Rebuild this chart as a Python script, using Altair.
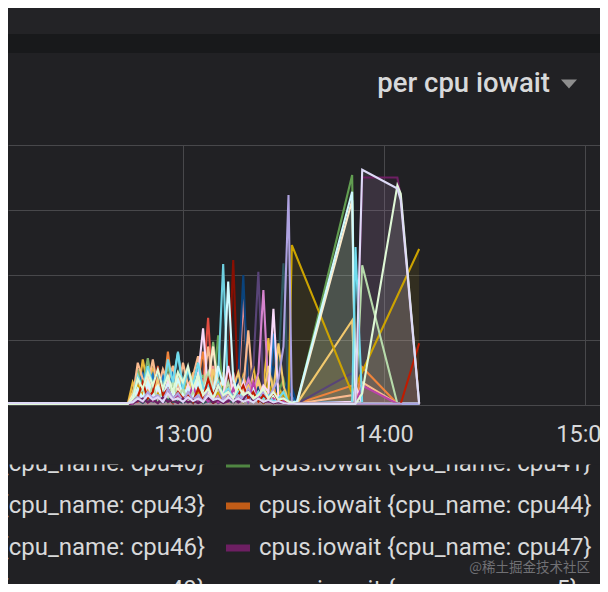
import altair as alt
import pandas as pd

# ---------------- data ----------------
# sample times, minutes after 12:00
TIMES = [0, 43.5,
         45, 46.5, 48, 49.5, 51, 52.5, 54, 55.5, 57, 58.5, 60, 61.5, 63, 64.5,
         66, 67.5, 69, 70.5, 72, 73.5, 75, 76.5, 78, 79.5, 81, 82.5, 84, 85.5, 87, 88.5, 90, 91.5,
         92.5, 94, 110.5, 111.5, 113.5, 124, 125, 130.5]
N = None

SERIES_COLORS = ["#705DA0", "#EAB839", "#E24D42", "#EF843C", "#7EB26D", "#629E51", "#6ED0E0",
                 "#1F78C1", "#890F02", "#F29191", "#0A437C", "#F9BA8F", "#584477", "#D683CE",
                 "#2F575E", "#F2C96D", "#CCA300", "#FCEACA", "#F9D9F9", "#CFFAFF", "#B7DBAB",
                 "#BA43A9", "#70DBED", "#BF1B00", "#AEA2E0", "#6D1F62", "#E0F9D7", "#DEDAF7"]

V01 = [0.03, 0.03, 0.05,0.10,0.04,0.12,0.06,0.15,0.05,0.10,0.04,0.12,0.05,0.08,0.03,0.10,0.05,0.20,0.06,0.15,0.05,0.10,0.04,0.12,0.05,0.30,0.08,0.15,0.05,0.10,0.04,0.08,0.03,0.05, N,0.02,0.03,0.02,0.03,0.02,0.02,0.02]
V02 = [0.01, 0.01, 0.35,0.15,0.70,0.30,0.55,0.20,0.45,0.15,0.60,0.25,0.40,0.20,0.50,0.10,0.35,0.10,0.50,0.15,0.30,0.05,0.20,0.10,0.45,0.20,0.60,0.10,0.30,1.03,0.15,0.30,0.08,0.05, N,0.02,0.05,0.02,0.03,0.02,0.02,0.02]
V03 = [0.01, 0.01, 0.10,0.05,0.18,0.04,0.15,0.06,0.20,0.05,0.12,0.04,0.18,0.06,0.15,0.05,0.30,1.34,0.10,0.05,0.20,0.08,0.15,0.05,0.25,0.05,0.10,0.20,0.05,0.15,0.08,0.05,0.10,0.05, N,0.02,0.03,0.02,0.02,0.02,0.02,0.02]
V04 = [0.01, 0.01, 0.15,0.40,0.25,0.55,0.20,0.35,0.15,0.82,0.20,0.45,0.15,0.30,0.10,0.40,0.82,0.20,0.35,0.10,0.50,0.15,0.30,0.10,0.40,0.15,0.35,0.10,0.25,0.08,0.30,0.10,0.20,0.05, N,0.02,0.30,0.02,0.58,0.02,0.02,0.02]
V05 = [0.01, 0.01, 0.08,0.55,0.30,0.72,0.25,0.45,0.20,0.60,0.30,0.50,0.20,0.55,0.25,0.40,0.45,0.30,0.97,0.40,0.15,0.30,0.10,0.25,0.05,0.20,0.10,0.30,0.08,0.15,0.05,0.10,0.05,0.03, N,0.02,0.03,0.02,0.02,0.02,0.02,0.02]
V06 = [0.01, 0.01, 0.05,0.25,0.40,0.15,0.35,0.10,0.25,0.05,0.30,0.12,0.20,0.05,0.15,0.08,0.25,0.40,0.20,1.07,0.15,0.30,0.10,0.20,0.05,0.15,0.05,0.10,0.05,0.12,0.05,0.20,0.40,0.05, N,0.02,3.54,0.02,0.02,0.02,0.02,0.02]
V07 = [0.01, 0.01, 0.05,0.20,0.35,0.15,0.30,0.10,0.45,0.20,0.35,0.82,0.25,0.15,0.30,0.10,0.20,0.05,0.30,0.45,2.17,0.10,0.20,0.05,0.15,0.05,0.10,0.05,0.15,0.05,0.10,0.05,0.08,0.02, N,0.02,0.02,0.02,0.02,0.02,0.02,0.02]
V08 = [0.01, 0.01, 0.05,0.32,0.48,0.26,0.47,0.15,0.45,0.20,0.50,0.22,0.35,0.58,0.10,0.54,0.05,0.30,0.08,0.20,0.05,0.25,0.10,0.15,0.40,0.05,0.20,0.10,0.30,0.05,1.10,0.10,0.05,0.20, N,0.03,0.05,0.02,0.03,0.02,0.02,0.02]
V09 = [0.01, 0.01, 0.02,0.10,0.05,0.20,0.08,0.15,0.05,0.12,0.03,0.20,0.05,0.10,0.03,0.15,0.05,0.10,0.03,0.08,0.15,0.30,2.23,0.10,0.05,0.20,0.05,0.10,0.03,0.08,0.03,0.05,0.03,0.02, N,0.02,0.02,0.02,0.02,0.02,0.02,0.02]
V10 = [0.01, 0.01, 0.05,0.30,0.10,0.45,0.15,0.25,0.08,0.20,0.05,0.30,0.10,0.15,0.05,0.25,0.10,0.35,0.60,0.15,0.40,0.10,0.50,0.20,1.66,0.30,0.10,0.20,0.05,0.15,0.05,0.10,0.05,0.03, N,0.02,0.02,0.02,0.02,0.02,0.02,0.02]
V11 = [0.01, 0.01, 0.03,0.15,0.05,0.20,0.08,0.12,0.05,0.18,0.05,0.10,0.05,0.15,0.05,0.10,0.03,0.12,0.05,0.10,0.05,0.20,0.10,0.40,2.00,0.15,0.05,0.30,0.05,0.10,0.60,0.05,0.10,0.43, N,0.02,0.02,0.02,0.02,0.02,0.02,0.02]
V12 = [0.01, 0.01, 0.12,0.65,0.40,0.30,0.70,0.25,0.55,0.35,0.60,0.20,0.65,0.30,0.45,0.75,0.20,0.90,0.30,0.20,0.40,0.15,0.30,0.10,0.25,1.15,0.20,0.35,0.10,0.20,0.10,0.15,0.05,0.03, N,0.02,0.15,0.02,0.35,0.02,0.02,0.02]
V13 = [0.03, 0.03, 0.03,0.08,0.15,0.05,0.10,0.03,0.12,0.05,0.08,0.03,0.10,0.05,0.08,0.03,0.10,0.05,0.12,0.03,0.08,0.05,0.15,0.05,0.10,0.30,0.60,2.05,0.20,0.05,0.10,0.03,0.05,0.02, N,0.02,0.49,0.02,0.02,0.02,0.02,0.02]
V14 = [0.01, 0.01, 0.05,0.15,0.08,0.25,0.10,0.20,0.05,0.15,0.08,0.30,0.10,0.20,0.05,0.15,0.10,0.25,0.08,0.15,0.05,0.20,0.10,0.30,0.15,0.40,0.20,0.50,1.77,0.20,0.10,0.05,0.10,0.03, N,0.02,0.02,0.02,0.02,0.02,0.02,0.02]
V15 = [0.01, 0.01, 0.02,0.08,0.03,0.10,0.05,0.08,0.03,0.10,0.05,0.06,0.03,0.08,0.04,0.10,0.03,0.06,0.05,0.10,0.04,0.08,0.03,0.12,0.05,0.08,0.04,0.15,0.05,0.10,0.30,0.60,2.18,0.10, N,0.02,0.02,0.02,0.02,0.02,0.02,0.02]
V16 = [0.01, 0.01, 0.20,0.45,0.10,0.30,0.15,0.40,0.20,0.25,0.10,0.35,0.15,0.20,0.40,0.10,0.30,0.15,0.55,0.20,0.35,0.10,0.25,0.50,0.15,0.30,0.10,0.40,0.15,0.60,0.20,0.95,0.30,0.05, N,0.02,1.30,0.02,0.02,0.02,0.02,0.02]
V17 = [0.01, 0.01, 0.10,0.30,0.15,0.25,0.08,0.20,0.05,0.30,0.10,0.15,0.05,0.25,0.10,0.20,0.05,0.15,0.10,0.20,0.05,0.15,0.10,0.25,0.05,0.15,0.10,0.20,0.05,0.35,0.10,0.20,0.15,0.05, 2.46,N,0.18,N,N,N,N,2.40]
V18 = [0.01, 0.01, 0.15,0.25,0.10,0.40,0.20,0.30,0.12,0.35,0.20,0.25,0.10,0.30,0.15,0.50,0.20,0.35,0.90,0.25,0.40,0.15,0.30,0.10,0.20,0.10,0.15,0.05,0.25,0.10,0.20,0.05,0.10,0.03, N,0.02,3.15,0.02,0.02,0.02,0.02,0.02]
V19 = [0.01, 0.01, 0.05,0.20,0.10,0.30,0.08,0.25,0.10,0.35,0.15,0.20,0.05,0.30,0.10,0.45,1.18,0.20,0.10,0.30,0.15,0.60,0.20,0.10,0.35,0.10,0.25,0.10,0.30,0.20,1.48,0.10,0.05,0.03, N,0.02,0.05,0.30,0.02,0.02,0.02,0.02]
V20 = [0.01, 0.01, 0.08,0.25,0.10,0.35,0.15,0.28,0.10,0.30,0.12,0.40,0.15,0.25,0.10,0.35,0.15,0.50,0.20,0.60,0.30,1.90,0.40,0.15,0.30,0.10,0.25,0.10,0.20,0.10,0.15,0.05,0.10,0.05, N,0.05,3.28,0.05,0.03,0.02,0.02,0.02]
V21 = [0.01, 0.01, 0.05,0.15,0.25,0.10,0.30,0.08,0.20,0.12,0.35,0.10,0.25,0.05,0.20,0.10,0.30,0.50,0.15,0.25,0.10,0.35,0.05,0.20,0.10,0.15,0.05,0.20,0.08,0.15,0.05,0.10,0.05,0.03, N,0.02,0.02,0.02,2.15,0.02,0.02,0.02]
V22 = [0.01, 0.01, 0.02,0.10,0.05,0.18,0.06,0.12,0.04,0.20,0.08,0.15,0.05,0.10,0.30,0.08,0.15,0.05,0.12,0.04,0.10,0.05,0.25,0.08,0.15,0.05,0.35,0.10,0.20,0.05,0.10,0.04,0.06,0.02, N,0.02,0.02,0.02,0.30,0.02,0.02,0.02]
V23 = [0.01, 0.01, 0.10,0.45,0.25,0.60,0.30,0.50,0.20,0.70,0.35,0.80,0.25,0.55,0.30,0.65,0.25,0.30,0.10,0.35,0.15,0.25,0.10,0.20,0.08,0.15,0.05,0.20,0.10,0.15,0.05,0.10,0.20,0.05, N,0.02,0.02,2.43,0.02,0.02,0.02,0.02]
V24 = [0.01, 0.01, 0.05,0.12,0.35,0.10,0.20,0.60,0.15,0.25,0.08,0.20,0.10,0.15,0.05,0.25,0.10,0.40,0.15,0.30,0.08,0.20,0.05,0.15,0.30,0.10,0.20,0.05,0.15,0.08,0.20,0.05,0.10,0.03, N,0.02,0.02,0.02,0.02,0.02,0.02,0.95]
V25 = [0.03, 0.03, 0.05,0.12,0.08,0.20,0.10,0.15,0.05,0.25,0.10,0.18,0.06,0.20,0.08,0.15,0.05,0.25,0.10,0.30,0.08,0.20,0.05,0.15,0.10,0.25,0.05,0.15,0.20,0.10,0.25,0.40,0.90,3.23, 0.02,0.02,0.02,0.02,0.02,0.02,0.02,0.02]
V26 = [0.01, 0.01, 0.03,0.06,0.10,0.04,0.08,0.03,0.12,0.05,0.08,0.03,0.10,0.04,0.08,0.03,0.06,0.12,0.04,0.08,0.03,0.06,0.10,0.04,0.08,0.20,0.05,0.10,0.04,0.06,0.03,0.05,0.03,0.02, N,0.02,0.02,0.02,3.50,3.50,3.20,0.02]
V27 = [0.01, 0.01, 0.10,0.40,0.25,0.50,0.30,0.55,0.25,0.45,0.20,0.50,0.35,0.60,0.25,0.45,0.15,0.25,0.10,0.30,0.15,0.20,0.10,0.30,0.15,0.20,0.10,0.15,0.25,0.10,0.20,0.08,0.10,0.05, N,0.02,0.02,0.02,0.18,3.38,3.25,0.02]
V28 = [0.03, 0.03, 0.04,0.10,0.06,0.15,0.08,0.12,0.05,0.18,0.08,0.10,0.05,0.12,0.06,0.10,0.05,0.15,0.08,0.10,0.05,0.12,0.06,0.10,0.05,0.08,0.04,0.10,0.05,0.08,0.04,0.06,0.03,0.02, N,0.02,0.02,0.02,3.62,3.33,3.15,0.02]

SERIES_VALUES = [V01, V02, V03, V04, V05, V06, V07, V08, V09, V10, V11, V12, V13, V14,
                 V15, V16, V17, V18, V19, V20, V21, V22, V23, V24, V25, V26, V27, V28]
SERIES_NAMES = ["s%02d" % (k + 1) for k in range(len(SERIES_VALUES))]

HOUR_TICKS = [13, 14, 15]
TITLE = "per cpu iowait"
LEGEND_LEFT = ["{cpu_name: cpu40}", "{cpu_name: cpu43}", "{cpu_name: cpu46}", "{cpu_name: cpu49}"]
LEGEND_RIGHT = ["cpus.iowait {cpu_name: cpu41}", "cpus.iowait {cpu_name: cpu44}",
                "cpus.iowait {cpu_name: cpu47}", "cpus.iowait {cpu_name: cpu5}"]
LEGEND_SWATCH = ["#508642", "#C15C17", "#6D1F62", "#F4D598"]
LEGEND_NEXT_SWATCH = "#70DBED"
WATERMARK = "@稀土掘金技术社区"

# ---------------- build table ----------------
base = pd.Timestamp("2021-01-01 12:00:00")
rows = []
for name, vals in zip(SERIES_NAMES, SERIES_VALUES):
    for t, v in zip(TIMES, vals):
        if v is None:
            continue
        rows.append({"series": name,
                     "time": (base + pd.Timedelta(minutes=t)).strftime("%Y-%m-%dT%H:%M:%S"),
                     "value": v})
df = pd.DataFrame(rows)

# ---------------- layout ----------------
W, H = 592, 260
PAD_TOP, PAD_BOTTOM = 137, 179
BG = "#212124"
TXT = "#d8d9da"
GRID = "#48484b"
FONT = "Roboto"

def dt(h, m=0, s=0):
    return alt.DateTime(year=2021, month=1, date=1, hours=h, minutes=m, seconds=s)

x_enc = alt.X("time:T",
              scale=alt.Scale(domain=[dt(12, 7, 46), dt(15, 4, 29)]),
              axis=alt.Axis(values=[dt(h) for h in HOUR_TICKS], format="%H:%M",
                            labelFont=FONT, labelFontSize=23.5, labelColor=TXT,
                            labelPadding=17, ticks=False, domain=False, grid=True,
                            gridColor=GRID, gridWidth=1, title=None, labelFlush=False,
                            labelOverlap=False))
y_enc = alt.Y("value:Q", stack=None,
              scale=alt.Scale(domain=[0, 4], nice=False),
              axis=alt.Axis(values=[0, 1, 2, 3, 4], labels=False, ticks=False, domain=False,
                            grid=True, gridColor=GRID, gridWidth=1, title=None))
color_enc = alt.Color("series:N", scale=alt.Scale(domain=SERIES_NAMES, range=SERIES_COLORS),
                      legend=None)

base_chart = alt.Chart(df)
areas = base_chart.mark_area(opacity=0.1, clip=True).encode(x=x_enc, y=y_enc, color=color_enc)
lines = base_chart.mark_line(strokeWidth=2.1, clip=True).encode(x=x_enc, y=y_enc, color=color_enc)

one = pd.DataFrame({"k": [0]})

def rect(x1, x2, y1, y2, color):
    return alt.Chart(one).mark_rect(color=color).encode(
        x=alt.value(x1), x2=alt.value(x2), y=alt.value(y1), y2=alt.value(y2))

def text(s, x, y, size, color=TXT, align="left", weight="normal", font=FONT):
    return alt.Chart(pd.DataFrame({"label": [s]})).mark_text(
        align=align, baseline="alphabetic", font=font, fontSize=size,
        fontWeight=weight, color=color).encode(
        x=alt.value(x), y=alt.value(y), text="label:N")

layers = [
    rect(0, W, -PAD_TOP, -111, "#232326"),
    rect(0, W, -111, -92, "#18191b"),
    areas, lines,
    text(TITLE, 542, -53, 27.5, align="right", weight=500),
    alt.Chart(one).mark_point(shape="M-1,-0.56L1,-0.56L0,0.56Z", size=256, filled=True,
                              color="#8e8e8e", opacity=1, strokeWidth=0).encode(
        x=alt.value(561), y=alt.value(-61)),
]

for k, (lt, rt, sc) in enumerate(zip(LEGEND_LEFT, LEGEND_RIGHT, LEGEND_SWATCH)):
    baseline = 326 + 42 * k
    cy = baseline - 7
    layers.append(text(lt, 197, baseline, 24, align="right"))
    layers.append(rect(218, 242, cy - 3.5, cy + 3.5, sc))
    layers.append(text(rt, 251, baseline, 24))
    if k == 3:
        layers.append(rect(590, 614, cy - 3.5, cy + 3.5, LEGEND_NEXT_SWATCH))

# clip the partly scrolled first legend row
layers.append(rect(0, W, 300, 319.5, BG))
layers.append(text(WATERMARK, 582, 427, 13.5, color="#707074", align="right",
                   font="Noto Sans CJK SC"))

chart = alt.layer(*layers).properties(
    width=W, height=H,
    padding={"left": 0, "right": 0, "top": PAD_TOP, "bottom": PAD_BOTTOM},
    autosize=alt.AutoSizeParams(type="none"),
    background=BG,
).configure_view(stroke=None)

chart.save("out.html", embed_options={"renderer": "svg", "actions": False})
